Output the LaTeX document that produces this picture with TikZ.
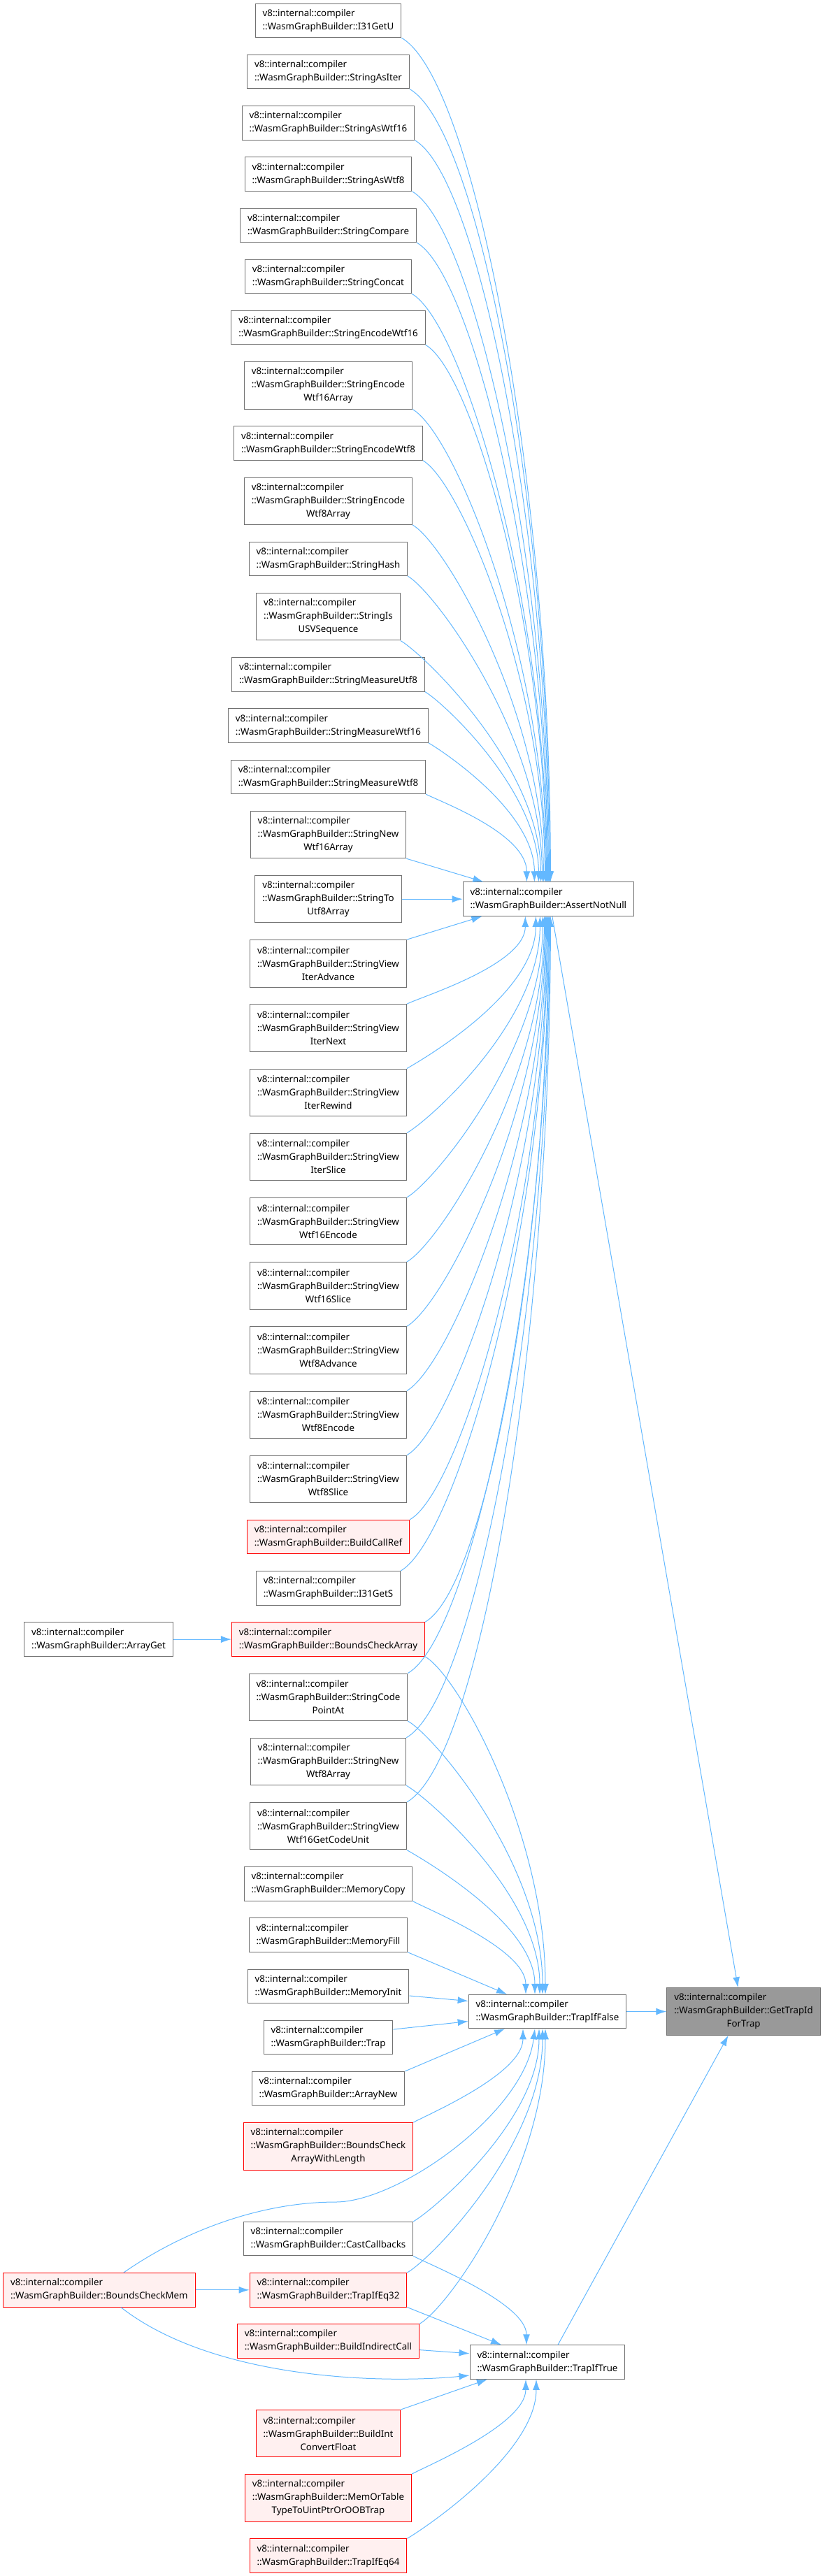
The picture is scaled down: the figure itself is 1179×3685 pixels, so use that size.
\documentclass[tikz,border=0pt]{standalone}
\usepackage{fontspec}
\setmainfont{Noto Sans}
\usetikzlibrary{arrows.meta, positioning}
\definecolor{linkBlue}{RGB}{99,184,255}
\definecolor{boxLine}{RGB}{112,112,112}
\definecolor{redLine}{RGB}{255,0,0}
\definecolor{redBox}{RGB}{255,240,240}
\definecolor{grayBox}{RGB}{153,153,153}

\begin{document}
\begin{tikzpicture}[
    x=1pt, y=1pt,
    node distance=23.7pt,
    fn/.style={rectangle, draw=boxLine, fill=white, line width=1pt, align=left, inner xsep=10.5pt, inner ysep=2pt, minimum height=48.5pt, font=\fontsize{13.3}{19}\selectfont},
    tall/.style={minimum height=67.5pt},
    fnred/.style={fn, draw=redLine, fill=redBox},
    link/.style={->, draw=linkBlue, line width=1pt},
    >={Latex[length=15pt, width=10pt]}
]
\useasboundingbox (0,0) rectangle (1179,-3685);

% left column
\node[fn] (i31u) at (469.5,-29.45) {v8::internal::compiler\\::WasmGraphBuilder::I31GetU};
\node[fn, below=of i31u] (asiter) {v8::internal::compiler\\::WasmGraphBuilder::StringAsIter};
\node[fn, below=of asiter] (aswtf16) {v8::internal::compiler\\::WasmGraphBuilder::StringAsWtf16};
\node[fn, below=of aswtf16] (aswtf8) {v8::internal::compiler\\::WasmGraphBuilder::StringAsWtf8};
\node[fn, below=of aswtf8] (compare) {v8::internal::compiler\\::WasmGraphBuilder::StringCompare};
\node[fn, below=of compare] (concat) {v8::internal::compiler\\::WasmGraphBuilder::StringConcat};
\node[fn, below=of concat] (encwtf16) {v8::internal::compiler\\::WasmGraphBuilder::StringEncodeWtf16};
\node[fn, tall, below=of encwtf16] (encwtf16arr) {v8::internal::compiler\\::WasmGraphBuilder::StringEncode\\\hfill Wtf16Array\hfill\mbox{}};
\node[fn, below=of encwtf16arr] (encwtf8) {v8::internal::compiler\\::WasmGraphBuilder::StringEncodeWtf8};
\node[fn, tall, below=of encwtf8] (encwtf8arr) {v8::internal::compiler\\::WasmGraphBuilder::StringEncode\\\hfill Wtf8Array\hfill\mbox{}};
\node[fn, below=of encwtf8arr] (hash) {v8::internal::compiler\\::WasmGraphBuilder::StringHash};
\node[fn, tall, below=of hash] (isusv) {v8::internal::compiler\\::WasmGraphBuilder::StringIs\\\hfill USVSequence\hfill\mbox{}};
\node[fn, below=of isusv] (measutf8) {v8::internal::compiler\\::WasmGraphBuilder::StringMeasureUtf8};
\node[fn, below=of measutf8] (measwtf16) {v8::internal::compiler\\::WasmGraphBuilder::StringMeasureWtf16};
\node[fn, below=of measwtf16] (measwtf8) {v8::internal::compiler\\::WasmGraphBuilder::StringMeasureWtf8};
\node[fn, tall, below=of measwtf8] (newwtf16arr) {v8::internal::compiler\\::WasmGraphBuilder::StringNew\\\hfill Wtf16Array\hfill\mbox{}};
\node[fn, tall, below=of newwtf16arr] (toutf8) {v8::internal::compiler\\::WasmGraphBuilder::StringTo\\\hfill Utf8Array\hfill\mbox{}};
\node[fn, tall, below=of toutf8] (iteradv) {v8::internal::compiler\\::WasmGraphBuilder::StringView\\\hfill IterAdvance\hfill\mbox{}};
\node[fn, tall, below=of iteradv] (iternext) {v8::internal::compiler\\::WasmGraphBuilder::StringView\\\hfill IterNext\hfill\mbox{}};
\node[fn, tall, below=of iternext] (iterrewind) {v8::internal::compiler\\::WasmGraphBuilder::StringView\\\hfill IterRewind\hfill\mbox{}};
\node[fn, tall, below=of iterrewind] (iterslice) {v8::internal::compiler\\::WasmGraphBuilder::StringView\\\hfill IterSlice\hfill\mbox{}};
\node[fn, tall, below=of iterslice] (wtf16enc) {v8::internal::compiler\\::WasmGraphBuilder::StringView\\\hfill Wtf16Encode\hfill\mbox{}};
\node[fn, tall, below=of wtf16enc] (wtf16slice) {v8::internal::compiler\\::WasmGraphBuilder::StringView\\\hfill Wtf16Slice\hfill\mbox{}};
\node[fn, tall, below=of wtf16slice] (wtf8adv) {v8::internal::compiler\\::WasmGraphBuilder::StringView\\\hfill Wtf8Advance\hfill\mbox{}};
\node[fn, tall, below=of wtf8adv] (wtf8enc) {v8::internal::compiler\\::WasmGraphBuilder::StringView\\\hfill Wtf8Encode\hfill\mbox{}};
\node[fn, tall, below=of wtf8enc] (wtf8slice) {v8::internal::compiler\\::WasmGraphBuilder::StringView\\\hfill Wtf8Slice\hfill\mbox{}};
\node[fnred, below=of wtf8slice] (callref) {v8::internal::compiler\\::WasmGraphBuilder::BuildCallRef};
\node[fn, below=of callref] (i31s) {v8::internal::compiler\\::WasmGraphBuilder::I31GetS};
\node[fnred, below=of i31s] (bca) {v8::internal::compiler\\::WasmGraphBuilder::BoundsCheckArray};
\node[fn, tall, below=of bca] (codepoint) {v8::internal::compiler\\::WasmGraphBuilder::StringCode\\\hfill PointAt\hfill\mbox{}};
\node[fn, tall, below=of codepoint] (newwtf8arr) {v8::internal::compiler\\::WasmGraphBuilder::StringNew\\\hfill Wtf8Array\hfill\mbox{}};
\node[fn, tall, below=of newwtf8arr] (codeunit) {v8::internal::compiler\\::WasmGraphBuilder::StringView\\\hfill Wtf16GetCodeUnit\hfill\mbox{}};
\node[fn, below=of codeunit] (memcopy) {v8::internal::compiler\\::WasmGraphBuilder::MemoryCopy};
\node[fn, below=of memcopy] (memfill) {v8::internal::compiler\\::WasmGraphBuilder::MemoryFill};
\node[fn, below=of memfill] (meminit) {v8::internal::compiler\\::WasmGraphBuilder::MemoryInit};
\node[fn, below=of meminit] (trap) {v8::internal::compiler\\::WasmGraphBuilder::Trap};
\node[fn, below=of trap] (arraynew) {v8::internal::compiler\\::WasmGraphBuilder::ArrayNew};
\node[fnred, tall, below=of arraynew] (bcawl) {v8::internal::compiler\\::WasmGraphBuilder::BoundsCheck\\\hfill ArrayWithLength\hfill\mbox{}};
\node[fn, below=73.2pt of bcawl] (castcb) {v8::internal::compiler\\::WasmGraphBuilder::CastCallbacks};
\node[fnred, below=of castcb] (tie32) {v8::internal::compiler\\::WasmGraphBuilder::TrapIfEq32};
\node[fnred, below=of tie32] (indirect) {v8::internal::compiler\\::WasmGraphBuilder::BuildIndirectCall};
\node[fnred, tall, below=73.2pt of indirect] (intconv) {v8::internal::compiler\\::WasmGraphBuilder::BuildInt\\\hfill ConvertFloat\hfill\mbox{}};
\node[fnred, tall, below=of intconv] (memortable) {v8::internal::compiler\\::WasmGraphBuilder::MemOrTable\\\hfill TypeToUintPtrOrOOBTrap\hfill\mbox{}};
\node[fnred, below=of memortable] (tie64) {v8::internal::compiler\\::WasmGraphBuilder::TrapIfEq64};

% far left
\node[fn, left=83pt of bca] (arrayget) {v8::internal::compiler\\::WasmGraphBuilder::ArrayGet};
\node[fnred, left=77pt of tie32] (bcmem) {v8::internal::compiler\\::WasmGraphBuilder::BoundsCheckMem};

% right side
\node[fn, right=87pt of toutf8] (assert) {v8::internal::compiler\\::WasmGraphBuilder::AssertNotNull};
\node[fn] (tiff) at (783,-2877.5) {v8::internal::compiler\\::WasmGraphBuilder::TrapIfFalse};
\node[fn] (tift) at (783,-3379) {v8::internal::compiler\\::WasmGraphBuilder::TrapIfTrue};
\node[fn, tall, fill=grayBox, right=57pt of tiff] (gettrap) {v8::internal::compiler\\::WasmGraphBuilder::GetTrapId\\\hfill ForTrap\hfill\mbox{}};

% callers of AssertNotNull
\draw[link] (i31u.south east) .. controls +(-30:120) and +(0,570) .. ([xshift=3pt]assert.north);
\draw[link] (asiter.south east) .. controls +(-30:115) and +(0,535) .. ([xshift=2pt]assert.north);
\draw[link] (aswtf16.south east) .. controls +(-30:105) and +(0,500) .. ([xshift=1pt]assert.north);
\draw[link] (aswtf8.south east) .. controls +(-30:100) and +(0,465) .. (assert.north);
\draw[link] (compare.south east) .. controls +(-30:92) and +(0,430) .. ([xshift=-1pt]assert.north);
\draw[link] (concat.south east) .. controls +(-30:85) and +(0,395) .. ([xshift=-2pt]assert.north);
\draw[link] (encwtf16.south east) .. controls +(-30:78) and +(0,360) .. ([xshift=-3pt]assert.north);
\draw[link] (encwtf16arr.south east) .. controls +(-30:70) and +(0,320) .. ([xshift=-4pt]assert.north);
\draw[link] (encwtf8.south east) .. controls +(-30:62) and +(0,285) .. ([xshift=-5pt]assert.north);
\draw[link] (encwtf8arr.south east) .. controls +(-30:54) and +(0,240) .. ([xshift=-7pt]assert.north);
\draw[link] (hash.south east) .. controls +(-30:46) and +(0,205) .. ([xshift=-9pt]assert.north);
\draw[link] (isusv.south east) .. controls +(-30:38) and +(0,165) .. ([xshift=-11pt]assert.north);
\draw[link] (measutf8.south east) .. controls +(-30:30) and +(0,130) .. ([xshift=-14pt]assert.north);
\draw[link] (measwtf16.south east) .. controls +(-30:24) and +(0,100) .. ([xshift=-20pt]assert.north);
\draw[link] (measwtf8.south east) .. controls +(-30:18) and +(0,70) .. ([xshift=-31pt]assert.north);
\draw[link] (newwtf16arr.south east) -- ([xshift=-93pt]assert.north);
\draw[link] (toutf8) -- (assert);
\draw[link] (iteradv.north east) -- ([xshift=-95pt]assert.south);
\draw[link] (iternext.north east) .. controls +(30:18) and +(0,-70) .. ([xshift=-33pt]assert.south);
\draw[link] (iterrewind.north east) .. controls +(30:30) and +(0,-110) .. ([xshift=-18pt]assert.south);
\draw[link] (iterslice.north east) .. controls +(30:38) and +(0,-150) .. ([xshift=-12pt]assert.south);
\draw[link] (wtf16enc.north east) .. controls +(30:46) and +(0,-190) .. ([xshift=-8pt]assert.south);
\draw[link] (wtf16slice.north east) .. controls +(30:54) and +(0,-235) .. ([xshift=-6pt]assert.south);
\draw[link] (wtf8adv.north east) .. controls +(30:62) and +(0,-275) .. ([xshift=-5pt]assert.south);
\draw[link] (wtf8enc.north east) .. controls +(30:70) and +(0,-320) .. ([xshift=-4pt]assert.south);
\draw[link] (wtf8slice.north east) .. controls +(30:78) and +(0,-360) .. ([xshift=-3pt]assert.south);
\draw[link] (callref.north east) .. controls +(30:86) and +(0,-405) .. ([xshift=-2pt]assert.south);
\draw[link] (i31s.north east) .. controls +(30:92) and +(0,-440) .. ([xshift=-1pt]assert.south);
\draw[link] (bca.north east) .. controls +(30:100) and +(0,-475) .. (assert.south);
\draw[link] (codepoint.north east) .. controls +(30:105) and +(0,-510) .. ([xshift=1pt]assert.south);
\draw[link] (newwtf8arr.north east) .. controls +(30:115) and +(0,-550) .. ([xshift=2pt]assert.south);
\draw[link] (codeunit.north east) .. controls +(30:125) and +(0,-595) .. ([xshift=3pt]assert.south);

% callers of TrapIfFalse
\draw[link] (bca.south east) .. controls +(-30:55) and +(0,230) .. ([xshift=-3pt]tiff.north);
\draw[link] (codepoint.south east) .. controls +(-30:46) and +(0,185) .. ([xshift=-7pt]tiff.north);
\draw[link] (newwtf8arr.south east) .. controls +(-30:38) and +(0,140) .. ([xshift=-11pt]tiff.north);
\draw[link] (codeunit.south east) .. controls +(-30:30) and +(0,100) .. ([xshift=-18pt]tiff.north);
\draw[link] (memcopy.south east) .. controls +(-30:20) and +(0,65) .. ([xshift=-31pt]tiff.north);
\draw[link] (memfill.south east) -- ([xshift=-58pt]tiff.north);
\draw[link] ([yshift=-13.7pt]meminit.east) -- ([yshift=15pt]tiff.west);
\draw[link] ([yshift=11.4pt]trap.east) -- ([yshift=-14pt]tiff.west);
\draw[link] (arraynew.north east) -- ([xshift=-61pt]tiff.south);
\draw[link] (bcawl.north east) .. controls +(30:20) and +(0,-65) .. ([xshift=-35pt]tiff.south);
\draw[link] ([xshift=35pt]bcmem.north) .. controls +(35:100) and +(-110,0) .. (480,-3150) .. controls +(90,0) and +(-15,-120) .. ([xshift=-18pt]tiff.south);
\draw[link] (castcb.north east) .. controls +(30:34) and +(0,-130) .. ([xshift=-12pt]tiff.south);
\draw[link] (tie32.north east) .. controls +(30:42) and +(0,-165) .. ([xshift=-7pt]tiff.south);
\draw[link] (indirect.north east) .. controls +(30:50) and +(0,-200) .. ([xshift=-3pt]tiff.south);

% callers of TrapIfTrue
\draw[link] (tie32.south east) -- ([xshift=-66pt]tift.north);
\draw[link] (castcb.south east) .. controls +(-30:20) and +(0,60) .. ([xshift=-30pt]tift.north);
\draw[link] ([yshift=-12.6pt]indirect.east) -- ([yshift=12.3pt]tift.west);
\draw[link] ([xshift=31pt]bcmem.south) .. controls +(-38:170) and +(-120,-12) .. ([yshift=-19pt]tift.west);
\draw[link] (intconv.north east) -- ([xshift=-86pt]tift.south);
\draw[link] (memortable.north east) .. controls +(30:20) and +(0,-65) .. ([xshift=-31pt]tift.south);
\draw[link] (tie64.north east) .. controls +(30:30) and +(0,-105) .. ([xshift=-16pt]tift.south);

% into GetTrapIdForTrap
\draw[link] ([xshift=5.5pt]assert.south) -- ([xshift=-8pt]gettrap.north);
\draw[link] (tiff) -- (gettrap);
\draw[link] ([xshift=15pt]tift.north) -- ([xshift=-22pt]gettrap.south);

% single callers
\draw[link] (arrayget) -- (bca);
\draw[link] (bcmem) -- (tie32);
\end{tikzpicture}
\end{document}
